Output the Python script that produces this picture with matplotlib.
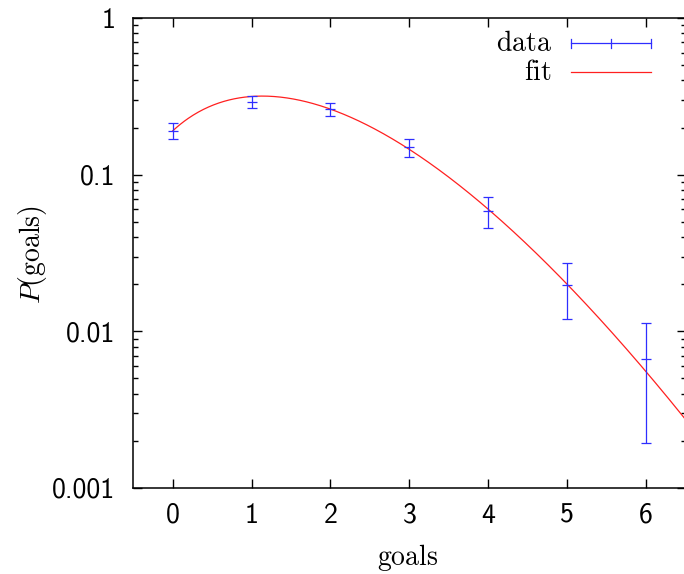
import math
import numpy as np
import matplotlib
matplotlib.use("Agg")
import matplotlib.pyplot as plt
from matplotlib.lines import Line2D
from matplotlib.ticker import LogLocator, FixedLocator, NullFormatter

plt.rcParams["mathtext.fontset"] = "cm"

# measured goal distribution
goals = [0, 1, 2, 3, 4, 5, 6]
prob = [0.191, 0.293, 0.263, 0.150, 0.0589, 0.0197, 0.00664]
prob_err = [0.022, 0.025, 0.025, 0.020, 0.0135, 0.0078, 0.0047]

# Poisson fit parameter (mean goals per match)
fit_lambda = 1.66

y_ticks = [0.001, 0.01, 0.1, 1]
y_ticklabels = ["0.001", "0.01", "0.1", "1"]
x_ticks = [0, 1, 2, 3, 4, 5, 6]

W, H = 684, 574
fig = plt.figure(figsize=(W / 100, H / 100), dpi=100)
ax = fig.add_axes([133.2 / W, 1 - 488 / H, 552.3 / W, 470 / H])

blue = "#2e2eff"
red = "#ff2020"

ax.errorbar(goals, prob, yerr=prob_err, fmt="_", color=blue, ecolor=blue,
            elinewidth=0.9, capsize=3.3, capthick=0.9, markersize=6.5,
            markeredgewidth=0.9, zorder=3)

xf = np.linspace(0, 6.5, 400)
yf = np.array([math.exp(x * math.log(fit_lambda) - fit_lambda - math.lgamma(x + 1))
               for x in xf])
ax.plot(xf, yf, color=red, lw=0.9, zorder=2)

ax.set_yscale("log")
ax.set_xlim(-0.5, 6.5)
ax.set_ylim(0.001, 1)

ax.xaxis.set_major_locator(FixedLocator(x_ticks))
ax.set_xticklabels([str(x) for x in x_ticks])
ax.yaxis.set_major_locator(FixedLocator(y_ticks))
ax.set_yticklabels(y_ticklabels)
ax.yaxis.set_minor_locator(LogLocator(base=10, subs=np.arange(2, 10)))
ax.yaxis.set_minor_formatter(NullFormatter())

for lab in ax.get_xticklabels() + ax.get_yticklabels():
    lab.set_fontfamily("cmss10")
    lab.set_fontsize(20)

ax.tick_params(axis="both", which="major", direction="in", length=6.5,
               width=1.0, top=True, right=True)
ax.tick_params(axis="y", which="minor", direction="in", length=3.5,
               width=1.0, right=True)
ax.tick_params(axis="x", which="major", pad=10.5)
ax.tick_params(axis="y", which="major", pad=13)

for sp in ax.spines.values():
    sp.set_linewidth(1.1)

ax.set_xlabel(r"$\mathrm{goals}$", fontsize=20)
ax.set_ylabel(r"$P(\mathrm{goals})$", fontsize=20)
ax.xaxis.set_label_coords(0.4976, -0.147)
ax.yaxis.set_label_coords(-0.183, 0.497)
ax.xaxis.label.set_va("center")
ax.yaxis.label.set_va("center")

# gnuplot-style key in the upper right corner
tr = ax.transAxes
x_text, x0, x1 = 0.758, 0.792, 0.937
row1, row2 = 0.946, 0.8845
ax.text(x_text, row1, r"$\mathrm{data}$", transform=tr, ha="right",
        va="center", fontsize=20)
ax.text(x_text, row2, r"$\mathrm{fit}$", transform=tr, ha="right",
        va="center", fontsize=20)
ax.add_line(Line2D([x0, x1], [row1, row1], transform=tr, color=blue, lw=0.9))
for xc in (x0, (x0 + x1) / 2, x1):
    ax.add_line(Line2D([xc, xc], [row1 - 0.0095, row1 + 0.0095], transform=tr,
                       color=blue, lw=0.9))
ax.add_line(Line2D([x0, x1], [row2, row2], transform=tr, color=red, lw=0.9))

fig.savefig("out.png", dpi=100)
